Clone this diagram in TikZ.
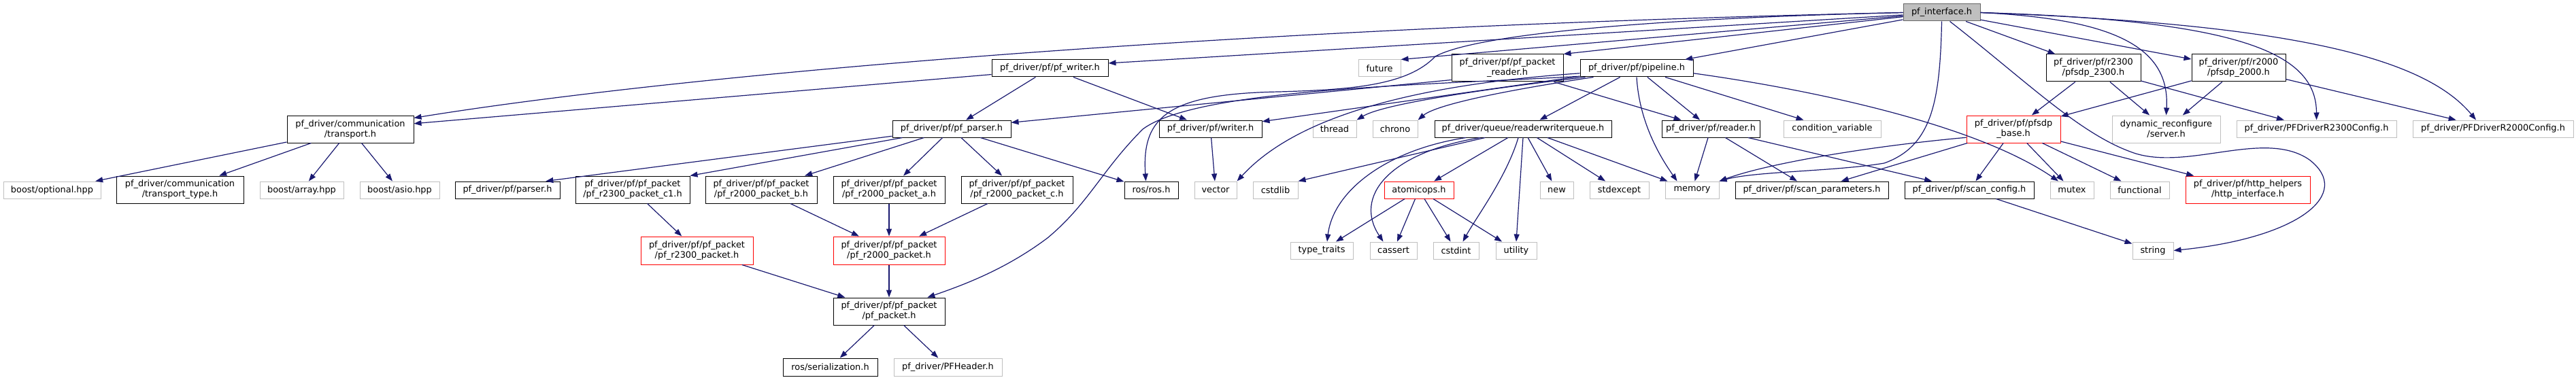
\documentclass[tikz,border=0pt]{standalone}
\usepackage{fontspec}
\setmainfont{DejaVu Sans}
\usetikzlibrary{arrows.meta}
\definecolor{edgeblue}{HTML}{191970}
\definecolor{nodegrey}{HTML}{BFBFBF}
\definecolor{maingrey}{HTML}{666666}

\begin{document}
\begin{tikzpicture}[x=1pt,y=-1pt,
    hdr/.style={draw=black, line width=1pt, inner sep=0pt, minimum height=25pt, align=center,
      font={\fontsize{12.9}{15}\selectfont}},
    sysfile/.style={hdr, draw=nodegrey},
    trunc/.style={hdr, draw=red},
    mainfile/.style={hdr, draw=maingrey, fill=nodegrey},
    dep/.style={draw=edgeblue, line width=1.2pt, -{Triangle[length=11pt,width=8pt]}}]
        \def\W{3787}
        \def\H{559}
        \useasboundingbox (0,0) rectangle (\W,\H);

\node[mainfile, minimum width=113pt] (iface) at (2854.5,18.5) {pf\_interface.h};

\node[hdr, minimum width=171pt] (pfwriter) at (1543.5,100.5) {pf\_driver/pf/pf\_writer.h};
\node[sysfile, minimum width=62pt] (future) at (2028,100.5) {future};
\node[hdr, minimum width=164pt, minimum height=40pt] (pkreader) at (2216,100) {pf\_driver/pf/pf\_packet\\\_reader.h};
\node[hdr, minimum width=166pt] (pipeline) at (2406,100.5) {pf\_driver/pf/pipeline.h};
\node[hdr, minimum width=139pt, minimum height=40pt] (pfsdp2300) at (3077.5,100) {pf\_driver/pf/r2300\\/pfsdp\_2300.h};
\node[hdr, minimum width=138pt, minimum height=40pt] (pfsdp2000) at (3291,100) {pf\_driver/pf/r2000\\/pfsdp\_2000.h};

\node[hdr, minimum width=186pt, minimum height=40pt] (transport) at (515,190) {pf\_driver/communication\\/transport.h};
\node[hdr, minimum width=174pt] (pfparser) at (1399,189.5) {pf\_driver/pf/pf\_parser.h};
\node[hdr, minimum width=151pt] (writerh) at (1779.5,189.5) {pf\_driver/pf/writer.h};
\node[sysfile, minimum width=64pt] (thread) at (1962,189.5) {thread};
\node[sysfile, minimum width=66pt] (chrono) at (2051,189.5) {chrono};
\node[hdr, minimum width=260pt] (rwq) at (2239,189.5) {pf\_driver/queue/readerwriterqueue.h};
\node[hdr, minimum width=144pt] (readerh) at (2515,189.5) {pf\_driver/pf/reader.h};
\node[sysfile, minimum width=143pt] (condvar) at (2693.5,189.5) {condition\_variable};
\node[trunc, minimum width=138pt, minimum height=40pt] (pfbase) at (2960,190) {pf\_driver/pf/pfsdp\\\_base.h};
\node[sysfile, minimum width=159pt, minimum height=40pt] (server) at (3184.5,190) {dynamic\_reconfigure\\/server.h};
\node[sysfile, minimum width=235pt] (r2300cfg) at (3405.5,189.5) {pf\_driver/PFDriverR2300Config.h};
\node[sysfile, minimum width=236pt] (r2000cfg) at (3665,189.5) {pf\_driver/PFDriverR2000Config.h};

\node[sysfile, minimum width=143pt] (optional) at (76.5,279.5) {boost/optional.hpp};
\node[hdr, minimum width=187pt, minimum height=40pt] (ttype) at (264.5,279) {pf\_driver/communication\\/transport\_type.h};
\node[sysfile, minimum width=123pt] (array) at (443.5,279.5) {boost/array.hpp};
\node[sysfile, minimum width=117pt] (asio) at (587.5,279.5) {boost/asio.hpp};
\node[hdr, minimum width=154pt] (parserh) at (746,279.5) {pf\_driver/pf/parser.h};
\node[hdr, minimum width=168pt, minimum height=40pt] (c1) at (930,279) {pf\_driver/pf/pf\_packet\\/pf\_r2300\_packet\_c1.h};
\node[hdr, minimum width=164pt, minimum height=40pt] (pkb) at (1119,279) {pf\_driver/pf/pf\_packet\\/pf\_r2000\_packet\_b.h};
\node[hdr, minimum width=164pt, minimum height=40pt] (pka) at (1307,279) {pf\_driver/pf/pf\_packet\\/pf\_r2000\_packet\_a.h};
\node[hdr, minimum width=164pt, minimum height=40pt] (pkc) at (1495,279) {pf\_driver/pf/pf\_packet\\/pf\_r2000\_packet\_c.h};
\node[hdr, minimum width=79pt] (rosh) at (1692.5,279.5) {ros/ros.h};
\node[sysfile, minimum width=62pt] (vector) at (1787,279.5) {vector};
\node[sysfile, minimum width=66pt] (cstdlib) at (1875,279.5) {cstdlib};
\node[trunc, minimum width=102pt] (atomicops) at (2086,279.5) {atomicops.h};
\node[sysfile, minimum width=49pt] (newh) at (2288.5,279.5) {new};
\node[sysfile, minimum width=87pt] (stdexcept) at (2380.5,279.5) {stdexcept};
\node[sysfile, minimum width=79pt] (memory) at (2487.5,279.5) {memory};
\node[hdr, minimum width=225pt] (scanparams) at (2663.5,279.5) {pf\_driver/pf/scan\_parameters.h};
\node[hdr, minimum width=190pt] (scanconfig) at (2895,279.5) {pf\_driver/pf/scan\_config.h};
\node[sysfile, minimum width=64pt] (mutex) at (3046,279.5) {mutex};
\node[sysfile, minimum width=87pt] (functional) at (3145.5,279.5) {functional};
\node[trunc, minimum width=183pt, minimum height=40pt] (http) at (3304.5,279) {pf\_driver/pf/http\_helpers\\/http\_interface.h};

\node[trunc, minimum width=165pt, minimum height=41pt] (r2300p) at (1024.5,368.5) {pf\_driver/pf/pf\_packet\\/pf\_r2300\_packet.h};
\node[trunc, minimum width=164pt, minimum height=41pt] (r2000p) at (1307,368.5) {pf\_driver/pf/pf\_packet\\/pf\_r2000\_packet.h};
\node[sysfile, minimum width=92pt] (typetraits) at (1943,368.5) {type\_traits};
\node[sysfile, minimum width=69pt] (cassert) at (2048.5,368.5) {cassert};
\node[sysfile, minimum width=67pt] (cstdint) at (2140.5,368.5) {cstdint};
\node[sysfile, minimum width=60pt] (utility) at (2229,368.5) {utility};
\node[sysfile, minimum width=60pt] (stringh) at (3165,368.5) {string};

\node[hdr, minimum width=164pt, minimum height=40pt] (pfpacket) at (1307,458) {pf\_driver/pf/pf\_packet\\/pf\_packet.h};
\node[hdr, minimum width=139pt, minimum height=26pt] (serial) at (1220.5,540) {ros/serialization.h};
\node[sysfile, minimum width=159pt, minimum height=26pt] (pfheader) at (1393.5,540) {pf\_driver/PFHeader.h};

\draw[dep] (iface.west) .. controls (1800,40) and (1000,110) .. (transport.10);
\draw[dep] (iface) -- (pfwriter.5);
\draw[dep] (iface) -- (future.north east);
\draw[dep] (iface) -- (pkreader.north east);
\draw[dep] (iface) -- (pipeline);
\draw[dep] (iface) -- (pfsdp2300);
\draw[dep] (iface) -- (pfsdp2000);
\draw[dep] (iface.east) .. controls (3110,28) and (3190,70) .. (server.north);
\draw[dep] (iface.east) .. controls (3300,30) and (3405,80) .. (r2300cfg.north);
\draw[dep] (iface.east) .. controls (3350,35) and (3560,80) .. ([xshift=-25pt]r2000cfg.north);
\draw[dep] ([xshift=12pt]iface.south) .. controls (2980,120) and (3060,200) .. (3140,226)
  .. controls (3220,250) and (3330,190) .. (3395,235) .. controls (3460,285) and (3380,350) .. (stringh.east);
\draw[dep] (iface.south) .. controls (2852,150) and (2840,215) .. (2770,240)
  .. controls (2700,252) and (2580,252) .. (memory.north east);
\draw[dep] (iface.west) .. controls (2500,25) and (2180,45) .. (2110,83) .. controls (2070,125) and (1990,132) .. (1880,135)
  .. controls (1720,138) and (1678,170) .. ([xshift=-8pt]rosh.north);

\draw[dep] ([xshift=8pt]pipeline.south west) .. controls (2150,135) and (2030,155) .. (thread.north east);
\draw[dep] ([xshift=20pt]pipeline.south west) .. controls (2200,135) and (2110,155) .. (chrono.north east);
\draw[dep] (pipeline) -- (rwq);
\draw[dep] (pipeline) -- (readerh);
\draw[dep] (pipeline.south) .. controls (2410,180) and (2440,230) .. ([xshift=-22pt]memory.north);
\draw[dep] (pipeline) -- (condvar);
\draw[dep] (pipeline.-5) .. controls (2650,130) and (2900,180) .. ([xshift=-20pt]mutex.north);
\draw[dep] (pipeline) -- (writerh);
\draw[dep] (pipeline.185) .. controls (2000,130) and (1880,200) .. (vector.north east);
\draw[dep] (pipeline.188) .. controls (2100,125) and (1760,130) .. (1680,190) .. controls (1620,250) and (1600,300) .. (1540,350)
  .. controls (1480,395) and (1420,418) .. (pfpacket.20);

\draw[dep] (pkreader.192) -- (pfparser.6);
\draw[dep] (pkreader) -- (readerh);

\draw[dep] (pfwriter.186) -- (transport.5);
\draw[dep] (pfwriter) -- (pfparser);
\draw[dep] (pfwriter) -- (writerh);

\draw[dep] (transport) -- (optional);
\draw[dep] (transport) -- (ttype);
\draw[dep] (transport) -- (array);
\draw[dep] (transport) -- (asio);

\draw[dep] (writerh) -- (vector);

\draw[dep] (pfparser.187) -- (parserh.13);
\draw[dep] (pfparser) -- (c1.north east);
\draw[dep] (pfparser) -- (pkb);
\draw[dep] (pfparser) -- (pka);
\draw[dep] (pfparser) -- (pkc);
\draw[dep] (pfparser) -- (rosh);

\draw[dep] (c1) -- (r2300p);
\draw[dep] (pkb) -- (r2000p);
\draw[dep] (pka) -- (r2000p);
\draw[dep] (pkc) -- (r2000p);
\draw[dep] (r2300p) -- (pfpacket);
\draw[dep] (r2000p) -- (pfpacket);
\draw[dep] (pfpacket) -- (serial);
\draw[dep] (pfpacket) -- (pfheader);

\draw[dep] (rwq) -- (cstdlib.north east);
\draw[dep] ([xshift=-84pt]rwq.south) .. controls (2040,220) and (1960,280) .. ([xshift=8pt]typetraits.north);
\draw[dep] ([xshift=-63pt]rwq.south) .. controls (2040,225) and (1990,290) .. ([xshift=-15pt]cassert.north);
\draw[dep] (rwq) -- (atomicops);
\draw[dep] ([xshift=-7pt]rwq.south) .. controls (2215,260) and (2170,320) .. ([xshift=10pt]cstdint.north);
\draw[dep] (rwq.south) -- (utility.north);
\draw[dep] (rwq) -- (newh);
\draw[dep] (rwq) -- (stdexcept);
\draw[dep] (rwq) -- (memory);

\draw[dep] (atomicops) -- (typetraits);
\draw[dep] (atomicops) -- (cassert);
\draw[dep] (atomicops) -- (cstdint);
\draw[dep] (atomicops) -- (utility);

\draw[dep] (readerh) -- (memory);
\draw[dep] (readerh) -- (scanparams);
\draw[dep] (readerh) -- (scanconfig);

\draw[dep] (pfbase.190) .. controls (2750,215) and (2600,240) .. (memory.north east);
\draw[dep] (pfbase) -- (scanparams);
\draw[dep] (pfbase) -- (scanconfig);
\draw[dep] (pfbase) -- (mutex);
\draw[dep] (pfbase) -- (functional);
\draw[dep] (pfbase) -- (http);

\draw[dep] (pfsdp2300) -- (pfbase);
\draw[dep] (pfsdp2300) -- (server);
\draw[dep] (pfsdp2300) -- (r2300cfg);
\draw[dep] (pfsdp2000) -- (pfbase);
\draw[dep] (pfsdp2000) -- (server);
\draw[dep] (pfsdp2000) -- (r2000cfg);

\draw[dep] (scanconfig) -- (stringh);

\end{tikzpicture}
\end{document}
